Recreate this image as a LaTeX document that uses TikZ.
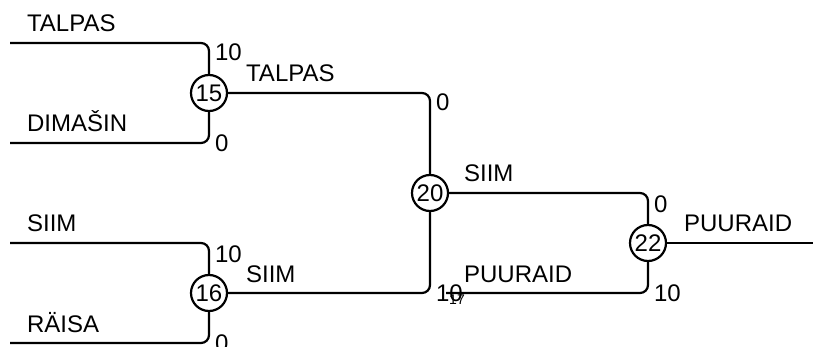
\documentclass[tikz,border=0pt]{standalone}
\usepackage{fontspec}
\setmainfont{Liberation Sans}
\usetikzlibrary{positioning}

\tikzset{
	game/.style={draw,circle,minimum size=18pt,inner sep=0pt},
	player/.style={anchor=base west,inner sep=0pt},
	score/.style={anchor=north west,inner sep=0pt,xshift=2.5pt},
}

\begin{document}
\begin{tikzpicture}[x=0.5pt,y=-0.5pt,line width=1.1pt,font=\fontsize{12}{14}\selectfont]
		\useasboundingbox (0,0) rectangle (813,347);
		% entries and final
		\coordinate (talpas) at (10,43);
		\coordinate (dimasin) at (10,143);
		\coordinate (siim) at (10,243);
		\coordinate (raisa) at (10,343);
		\coordinate (puuraid) at (446,293);
		\coordinate (winner) at (813,243);
		% games
		\node[game] (g15) at (209,93) {15};
		\node[game] (g16) at (209,293) {16};
		\node[game] (g20) at (430,193) {20};
		\node[game] (g22) at (648,243) {22};
		\draw[rounded corners=4pt] (talpas) -| (g15);
		\draw[rounded corners=4pt] (dimasin) -| (g15);
		\draw[rounded corners=4pt] (siim) -| (g16);
		\draw[rounded corners=4pt] (raisa) -| (g16);
		\draw[rounded corners=4pt] (g15) -| (g20);
		\draw[rounded corners=4pt] (g16) -| (g20);
		\draw[rounded corners=4pt] (g20) -| (g22);
		\draw[rounded corners=4pt] (puuraid) -| (g22);
		\draw (g22) -- (winner);
		% names
		\node[player] at (26,32) {TALPAS};
		\node[player] at (26,132) {DIMAŠIN};
		\node[player] at (26,232) {SIIM};
		\node[player] at (26,332) {RÄISA};
		\node[player] at (245,82) {TALPAS};
		\node[player] at (245,282) {SIIM};
		\node[player] at (463,182) {SIIM};
		\node[player] at (463,282) {PUURAID};
		\node[player] at (683,232) {PUURAID};
		% scores
		\node[score] at (209,43) {10};
		\node[score,anchor=west] at (209,143) {0};
		\node[score] at (209,245) {10};
		\node[score,anchor=west] at (209,343) {0};
		\node[score] at (430,93) {0};
		\node[score,anchor=west] at (430,293) {10};
		\node[score] at (648,195) {0};
		\node[score,anchor=west] at (648,293) {10};
		\node[inner sep=0pt,font=\fontsize{7}{8}\selectfont] at (457,300) {17};
	\end{tikzpicture}
\end{document}
